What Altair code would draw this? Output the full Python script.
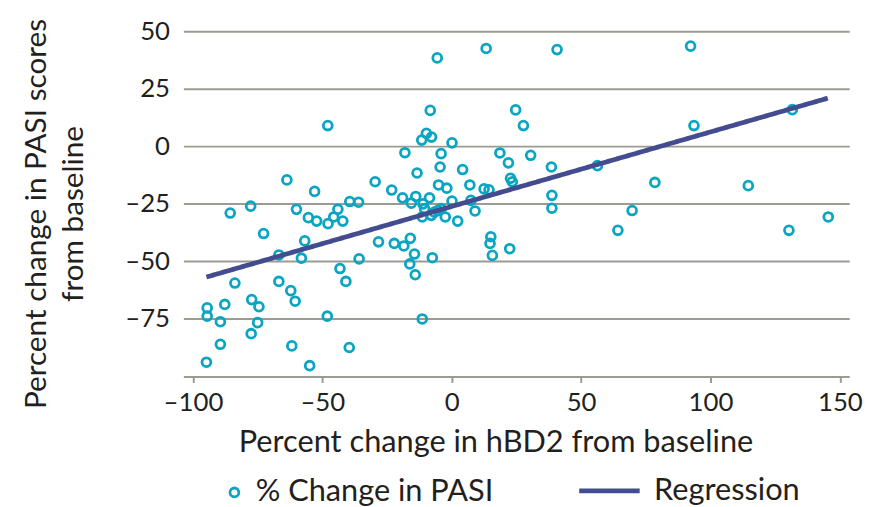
import altair as alt
import pandas as pd

# hBD2 % change (x) and PASI % change (y)
x_vals = [-47.9, -8.3, -9.8, -11.6, -7.8, -18.1, -13.4, -63.7, -29.6, -23.2,
          -53.0, -85.6, -77.7, -60.0, -55.4, -52.2, -47.8, -45.6, -44.0, -42.1,
          -39.4, -36.0, -19.0, -13.9, -15.6, -72.7, -56.8, -66.8, -58.1, -43.2,
          -35.8, -40.9, -28.3, -22.2, -18.5, -16.0, -14.4, -16.2, -14.1, -83.8,
          -66.8, -62.2, -60.5, -94.5, -94.5, -87.7, -89.4, -77.3, -74.5, -75.0,
          -77.5, -89.4, -94.8, -61.8, -54.9, -48.1, -39.6, -11.4, -5.6, 13.3,
          40.7, 24.7, 27.7, -4.1, 0.1, -4.5, 4.2, 18.6, 21.9, 30.5,
          38.5, 56.3, 22.7, 23.4, -5.1, -1.9, 7.0, 12.5, 14.4, 38.7,
          -8.6, -11.1, -10.5, -11.4, -7.9, -6.7, -5.4, -4.1, 0.1, -2.5,
          2.3, 7.4, 9.0, 38.7, 64.2, -7.5, 15.1, 14.8, 15.7, 22.4,
          92.3, 93.6, 131.6, 78.5, 114.6, 69.7, 130.3, 145.5]
y_vals = [9.0, 15.6, 5.6, 2.7, 4.0, -2.8, -11.6, -14.6, -15.4, -19.0,
          -19.6, -29.0, -26.0, -27.4, -31.0, -32.5, -33.6, -30.7, -27.4, -32.5,
          -24.0, -24.3, -22.4, -21.8, -24.7, -37.9, -41.1, -47.2, -48.6, -53.1,
          -48.9, -58.7, -41.5, -42.2, -43.3, -40.0, -46.8, -51.1, -55.8, -59.4,
          -58.7, -62.7, -67.3, -70.2, -73.8, -68.7, -76.2, -66.6, -69.7, -76.6,
          -81.4, -86.0, -93.8, -86.7, -95.3, -73.8, -87.4, -75.0, 38.4, 42.5,
          42.0, 15.8, 9.0, -3.2, 1.5, -9.0, -10.1, -2.9, -7.2, -3.9,
          -9.0, -8.4, -13.9, -15.4, -16.8, -18.2, -16.8, -18.5, -18.9, -21.3,
          -22.4, -25.0, -27.1, -30.7, -30.0, -28.6, -27.9, -27.1, -23.8, -30.7,
          -32.5, -23.5, -28.1, -26.9, -36.5, -48.4, -39.3, -42.2, -47.4, -44.5,
          43.5, 9.0, 15.9, -15.7, -17.1, -27.9, -36.5, -30.7]

# regression line end points
reg_x = [-94.8, 145.3]
reg_y = [-56.8, 20.9]

x_ticks = [-100, -50, 0, 50, 100, 150]
y_ticks = [-75, -50, -25, 0, 25, 50]

pts = pd.DataFrame({"x": x_vals, "y": y_vals})
reg = pd.DataFrame({"x": reg_x, "y": reg_y})

TEAL = "#0AA5C2"
NAVY = "#424C8E"
GRID = "#9C9B91"
TXT = "#231F20"

xscale = alt.Scale(domain=[-103.7, 153.6], nice=False, zero=False)
yscale = alt.Scale(domain=[-100, 50], nice=False, zero=False)

xaxis = alt.Axis(values=x_ticks, grid=False, domainColor=GRID, domainWidth=2,
                 tickColor=GRID, tickWidth=2, tickSize=6,
                 labelFontSize=26, labelPadding=7, labelColor=TXT,
                 labelExpr="replace(datum.label, '\u2212', '\u2013')",
                 title="Percent change in hBD2 from baseline",
                 titleFontSize=31, titleFontWeight="normal", titleColor=TXT,
                 titleX=315, titleY=67, titleBaseline="middle")
yaxis = alt.Axis(values=y_ticks, grid=True, gridColor=GRID, gridWidth=2,
                 domain=False, ticks=False, tickSize=0,
                 labelFontSize=26, labelPadding=14, labelColor=TXT,
                 labelExpr="replace(datum.label, '\u2212', '\u2013')",
                 title=["Percent change in PASI scores", "from baseline"],
                 titleFontSize=30, titleFontWeight="normal", titleColor=TXT,
                 titleAngle=270, titleX=-148, titleY=184,
                 titleAlign="center", titleBaseline="middle", titleLineHeight=37)

points = alt.Chart(pts).mark_point(filled=False, color=TEAL, strokeWidth=2.8,
                                   size=80, opacity=1).encode(
    x=alt.X("x:Q", scale=xscale, axis=xaxis),
    y=alt.Y("y:Q", scale=yscale, axis=yaxis),
    shape=alt.Shape("lab:N", scale=alt.Scale(domain=["% Change in PASI"], range=["circle"]),
                    legend=alt.Legend(title=None, orient="none", legendX=36, legendY=450,
                                      symbolStrokeColor=TEAL, symbolFillColor="white",
                                      symbolStrokeWidth=2.8, symbolSize=80,
                                      labelFontSize=31, labelColor=TXT, labelOffset=6,
                                      labelLimit=0)),
).transform_calculate(lab="'% Change in PASI'")

line = alt.Chart(reg).mark_line(color=NAVY, strokeWidth=4.8).encode(
    x="x:Q",
    y="y:Q",
    strokeDash=alt.StrokeDash("lab:N", scale=alt.Scale(domain=["Regression"], range=[[1, 0]]),
                              legend=alt.Legend(title=None, orient="none", legendX=397, legendY=431,
                                                symbolType="stroke", symbolStrokeColor=NAVY,
                                                symbolStrokeWidth=4.8, symbolSize=3721,
                                                labelFontSize=31, labelColor=TXT, labelOffset=12,
                                                labelLimit=0)),
).transform_calculate(lab="'Regression'")

chart = alt.layer(points, line).properties(
    width=672, height=348.5,
    autosize=alt.AutoSizeParams(type="none"),
    padding={"left": 177, "top": 21, "right": 25, "bottom": 150},
).configure(font="Lato").configure_view(stroke=None)

chart.save("out.html", embed_options={"renderer": "svg", "actions": False})
